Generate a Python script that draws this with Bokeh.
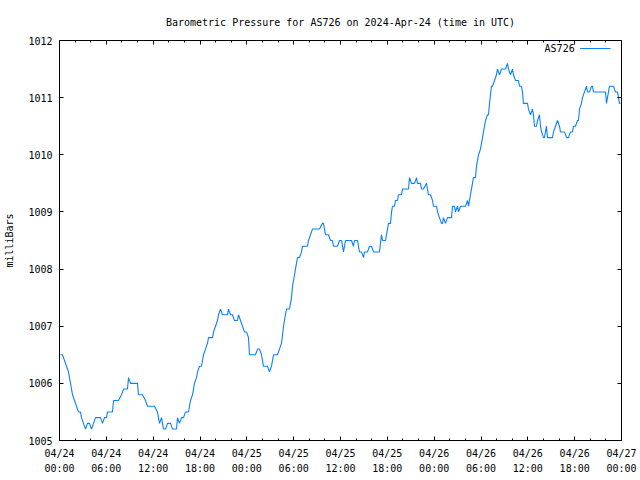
from bokeh.plotting import figure
from bokeh.models import Range1d, FixedTicker, LinearAxis, Label, Arrow
from bokeh.embed import file_html
from bokeh.resources import INLINE

# hours since 2024-04-24 00:00 UTC
hours = [0.13, 0.38, 0.64, 0.90, 1.15, 1.41, 1.54, 1.67, 1.92, 2.18, 2.43, 2.69, 2.82, 3.07, 3.33,
         3.59, 3.84, 4.10, 4.36, 4.61, 5.25, 5.51, 5.76, 6.02, 6.15, 6.79, 6.92, 7.56, 7.94, 8.20,
         8.71, 8.84, 9.10, 9.99, 10.12, 10.63, 11.02, 11.27, 12.17, 12.55, 12.81, 13.07, 13.32, 13.58,
         13.84, 14.22, 14.48, 14.99, 15.12, 15.37, 15.63, 15.89, 16.14, 16.53, 16.65, 16.78, 17.04,
         17.29, 17.55, 17.68, 17.94, 18.19, 18.32, 18.45, 18.70, 18.96, 19.09, 19.60, 19.73, 19.99,
         20.24, 20.37, 20.63, 20.88, 21.52, 21.65, 21.91, 22.16, 22.42, 22.80, 22.93, 23.19, 23.44,
         23.70, 23.96, 24.21, 24.34, 25.11, 25.37, 25.62, 25.88, 26.13, 26.65, 26.90, 27.16, 27.42,
         27.93, 28.18, 28.44, 28.70, 28.82, 29.08, 29.47, 29.59, 29.72, 29.85, 29.98, 30.23, 30.36,
         30.49, 30.75, 31.00, 31.13, 31.77, 31.90, 32.16, 32.41, 33.31, 33.69, 33.82, 34.08, 34.46,
         34.72, 34.97, 35.10, 35.61, 35.87, 36.13, 36.26, 36.38, 36.64, 37.41, 37.66, 37.79, 38.18,
         38.43, 38.69, 38.95, 39.07, 39.46, 39.71, 39.97, 40.23, 40.99, 41.25, 41.38, 41.77, 42.02,
         42.15, 42.41, 42.54, 42.66, 42.92, 43.04, 43.30, 43.43, 43.81, 43.94, 44.71, 44.84, 45.09,
         45.48, 45.74, 45.86, 46.25, 46.38, 46.63, 47.02, 47.14, 47.27, 47.53, 47.79, 47.91, 48.30,
         48.43, 48.68, 48.94, 49.07, 49.19, 49.45, 49.71, 50.22, 50.35, 50.60, 50.73, 50.99, 51.12,
         51.37, 52.01, 52.27, 52.40, 52.65, 52.91, 53.04, 53.29, 53.42, 53.68, 53.93, 54.19, 54.32,
         54.58, 54.83, 54.96, 55.09, 55.34, 55.47, 55.73, 55.98, 56.11, 56.37, 56.62, 57.14, 57.39,
         57.52, 57.78, 58.03, 58.16, 58.42, 58.80, 58.93, 59.19, 59.31, 59.44, 59.96, 60.08, 60.34,
         60.59, 60.72, 60.85, 61.11, 61.24, 61.49, 61.62, 61.75, 62.01, 62.13, 62.39, 62.52, 63.16,
         63.29, 63.54, 63.80, 64.06, 64.18, 64.70, 64.95, 65.21, 65.46, 65.72, 65.85, 66.10, 66.36,
         66.49, 66.62, 66.87, 67.00, 67.26, 67.51, 67.64, 67.90, 68.15, 68.28, 68.41, 69.69, 69.95,
         70.08, 70.33, 70.46, 70.97, 71.23, 71.49, 71.61, 71.74, 71.87]

pressure = [1006.5, 1006.5, 1006.4, 1006.3, 1006.2, 1006.0, 1005.9, 1005.8, 1005.7, 1005.6, 1005.5,
            1005.5, 1005.4, 1005.3, 1005.2, 1005.3, 1005.3, 1005.2, 1005.3, 1005.4, 1005.4, 1005.3,
            1005.4, 1005.4, 1005.5, 1005.5, 1005.7, 1005.7, 1005.8, 1005.9, 1005.9, 1006.1, 1006.0,
            1006.0, 1005.8, 1005.8, 1005.7, 1005.6, 1005.6, 1005.5, 1005.3, 1005.4, 1005.2, 1005.2,
            1005.3, 1005.3, 1005.2, 1005.2, 1005.4, 1005.3, 1005.4, 1005.4, 1005.5, 1005.5, 1005.6,
            1005.7, 1005.8, 1006.0, 1006.1, 1006.2, 1006.3, 1006.3, 1006.4, 1006.5, 1006.6, 1006.7,
            1006.8, 1006.8, 1006.9, 1007.0, 1007.1, 1007.2, 1007.3, 1007.2, 1007.2, 1007.3, 1007.2,
            1007.2, 1007.1, 1007.1, 1007.2, 1007.1, 1007.0, 1006.9, 1006.9, 1006.8, 1006.5, 1006.5,
            1006.6, 1006.6, 1006.5, 1006.3, 1006.3, 1006.2, 1006.3, 1006.5, 1006.5, 1006.6, 1006.7,
            1007.0, 1007.1, 1007.3, 1007.3, 1007.4, 1007.5, 1007.7, 1007.8, 1008.0, 1008.1, 1008.2,
            1008.2, 1008.3, 1008.4, 1008.4, 1008.5, 1008.6, 1008.7, 1008.7, 1008.8, 1008.8, 1008.6,
            1008.6, 1008.5, 1008.5, 1008.4, 1008.4, 1008.5, 1008.5, 1008.4, 1008.3, 1008.5, 1008.5,
            1008.4, 1008.5, 1008.5, 1008.3, 1008.3, 1008.2, 1008.3, 1008.3, 1008.4, 1008.4, 1008.3,
            1008.3, 1008.6, 1008.5, 1008.5, 1008.7, 1008.8, 1008.8, 1009.0, 1009.1, 1009.1, 1009.2,
            1009.2, 1009.3, 1009.3, 1009.4, 1009.4, 1009.6, 1009.5, 1009.5, 1009.6, 1009.5, 1009.5,
            1009.4, 1009.4, 1009.5, 1009.4, 1009.3, 1009.3, 1009.2, 1009.1, 1009.1, 1009.0, 1008.9,
            1008.8, 1008.8, 1008.9, 1008.8, 1008.9, 1008.9, 1009.1, 1009.1, 1009.0, 1009.1, 1009.0,
            1009.1, 1009.1, 1009.2, 1009.1, 1009.3, 1009.5, 1009.6, 1009.6, 1009.8, 1010.0, 1010.1,
            1010.3, 1010.4, 1010.6, 1010.7, 1010.7, 1010.9, 1011.2, 1011.2, 1011.3, 1011.4, 1011.5,
            1011.4, 1011.5, 1011.5, 1011.6, 1011.5, 1011.4, 1011.5, 1011.4, 1011.3, 1011.3, 1011.2,
            1011.2, 1011.1, 1010.9, 1010.9, 1010.8, 1010.7, 1010.8, 1010.7, 1010.5, 1010.5, 1010.6,
            1010.7, 1010.5, 1010.4, 1010.3, 1010.3, 1010.5, 1010.3, 1010.3, 1010.4, 1010.5, 1010.6,
            1010.5, 1010.4, 1010.4, 1010.3, 1010.3, 1010.4, 1010.4, 1010.5, 1010.5, 1010.6, 1010.6,
            1010.8, 1010.9, 1011.0, 1011.1, 1011.2, 1011.1, 1011.1, 1011.2, 1011.2, 1011.1, 1011.1,
            1011.1, 1010.9, 1011.1, 1011.2, 1011.2, 1011.1, 1011.1, 1011.0, 1010.9, 1010.9]

x_tick_hours = [0, 6, 12, 18, 24, 30, 36, 42, 48, 54, 60, 66, 72]
x_tick_labels = ["04/24\n00:00", "04/24\n06:00", "04/24\n12:00", "04/24\n18:00",
                 "04/25\n00:00", "04/25\n06:00", "04/25\n12:00", "04/25\n18:00",
                 "04/26\n00:00", "04/26\n06:00", "04/26\n12:00", "04/26\n18:00",
                 "04/27\n00:00"]
x_minor_hours = list(range(0, 73, 2))
y_ticks = [1005, 1006, 1007, 1008, 1009, 1010, 1011, 1012]
series_name = "AS726"
title_text = "Barometric Pressure for AS726 on 2024-Apr-24 (time in UTC)"
y_label = "milliBars"

FONT = "DejaVu Sans Mono"
FS = "10px"
LINE_COLOR = "#0a80ff"

p = figure(width=640, height=480, output_backend="svg", toolbar_location=None,
           x_range=Range1d(0, 72), y_range=Range1d(1005, 1012),
           min_border_left=59, min_border_right=19, min_border_top=40, min_border_bottom=40)

p.line(hours, pressure, line_color=LINE_COLOR, line_width=1.1)

p.title.text = title_text
p.title.align = "center"
p.title.text_font = FONT
p.title.text_font_size = FS
p.title.text_font_style = "normal"
p.title.text_color = "black"
p.title.standoff = 25

p.xgrid.visible = False
p.ygrid.visible = False
p.outline_line_color = "black"
p.outline_line_alpha = 1.0
p.background_fill_color = "white"
p.border_fill_color = "white"


def style_axis(ax):
    ax.axis_line_color = "black"
    ax.major_tick_line_color = "black"
    ax.minor_tick_line_color = "black"
    ax.major_tick_in = 4
    ax.major_tick_out = 0
    ax.minor_tick_in = 2
    ax.minor_tick_out = 0
    ax.major_label_text_font = FONT
    ax.major_label_text_font_size = FS
    ax.major_label_text_color = "black"
    ax.axis_label_text_font = FONT
    ax.axis_label_text_font_size = FS
    ax.axis_label_text_font_style = "normal"
    ax.axis_label_text_color = "black"


p.xaxis.ticker = FixedTicker(ticks=x_tick_hours, minor_ticks=x_minor_hours)
p.xaxis.major_label_overrides = dict(zip(x_tick_hours, x_tick_labels))
p.yaxis.ticker = FixedTicker(ticks=y_ticks, minor_ticks=[])
p.yaxis.axis_label = y_label
style_axis(p.xaxis[0])
style_axis(p.yaxis[0])
p.xaxis.major_label_standoff = 7
p.xaxis.major_label_text_line_height = 1.4
p.yaxis.major_label_standoff = 7
p.yaxis.axis_label_standoff = 10

# mirrored tick marks on the top and right edges, without labels
top_ax = LinearAxis(ticker=FixedTicker(ticks=x_tick_hours, minor_ticks=x_minor_hours))
style_axis(top_ax)
top_ax.major_label_overrides = {t: "" for t in x_tick_hours}
top_ax.major_label_standoff = 0
p.add_layout(top_ax, "above")

right_ax = LinearAxis(ticker=FixedTicker(ticks=y_ticks, minor_ticks=[]))
style_axis(right_ax)
right_ax.major_label_overrides = {t: "" for t in y_ticks}
right_ax.major_label_standoff = 0
p.add_layout(right_ax, "right")

# key (text then line sample), placed in the top-right corner
p.add_layout(Label(x=66.0, y=1011.86, text=series_name, text_align="right",
                   text_baseline="middle", text_font=FONT, text_font_size=FS,
                   text_color="black"))
p.add_layout(Arrow(end=None, x_start=66.7, x_end=70.6, y_start=1011.86, y_end=1011.86,
                   line_color=LINE_COLOR, line_width=1))

open("out.html", "w").write(file_html(p, INLINE))
